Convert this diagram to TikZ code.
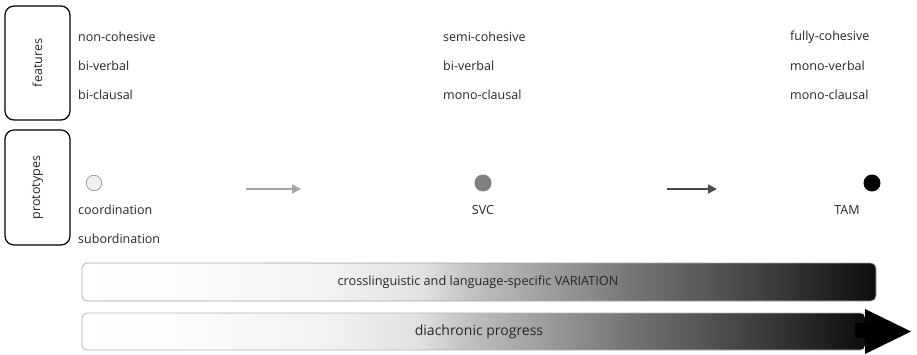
\documentclass[tikz,border=0pt]{standalone}
\usepackage{fontspec}
\setmainfont{Open Sans}
\usetikzlibrary{arrows.meta}
\pgfdeclarehorizontalshading{barshade}{100bp}{%
color(0bp)=(white);
color(25bp)=(white);
color(31bp)=(black!1);
color(40.5bp)=(black!5);
color(46.5bp)=(black!12);
color(49.5bp)=(black!24);
color(55bp)=(black!40);
color(60bp)=(black!55);
color(64bp)=(black!65);
color(69bp)=(black!78);
color(75bp)=(black!95);
color(100bp)=(black!95)}
\definecolor{txt}{gray}{0.15}
\tikzset{
  labelbox/.style={draw=black, line width=1.2pt, rounded corners=9pt},
  feat/.style={anchor=west, inner sep=0pt, text=txt, font=\fontsize{12.5}{14}\selectfont},
  vlabel/.style={rotate=90, text=txt, font=\fontsize{12.5}{14}\selectfont},
  proto/.style={circle, minimum size=17pt, inner sep=0pt},
  prog/.style={line width=1.6pt, -{Triangle[length=9pt,width=9pt]}},
  bartext/.style={text=txt, font=\fontsize{12.7}{14}\selectfont}
}
\begin{document}
\begin{tikzpicture}[x=1pt,y=-1pt]
\useasboundingbox (0,0) rectangle (917,355);
% left boxes
\draw[labelbox] (5,6) rectangle (70,120);
\node[vlabel] (feat) at (37.5,63) {features};
\draw[labelbox] (5,130) rectangle (70,245);
\node[vlabel] (prot) at (37.5,187.5) {prototypes};
% features
\node[feat] (f11) at (78,37) {non-cohesive};
\node[feat] (f12) at (78,66) {bi-verbal};
\node[feat] (f13) at (78,95) {bi-clausal};
\node[feat] (f21) at (443,37) {semi-cohesive};
\node[feat] (f22) at (443,66) {bi-verbal};
\node[feat] (f23) at (443,95) {mono-clausal};
\node[feat] (f31) at (790,37) {fully-cohesive};
\node[feat] (f32) at (790,66) {mono-verbal};
\node[feat] (f33) at (790,95) {mono-clausal};
% prototypes
\node[proto, draw=black!45, fill=black!6, line width=0.6pt, minimum size=15.5pt] (c1) at (94,183) {};
\node[proto, fill=black!50] (c2) at (483,183) {};
\node[proto, fill=black] (c3) at (872,183) {};
\node[feat] (p1) at (78,210) {coordination};
\node[feat] (p2) at (78,239) {subordination};
\node[feat, anchor=center] (p3) at (483,210) {SVC};
\node[feat, anchor=center] (p4) at (847,210) {TAM};
\coordinate (a1s) at (246,189); \coordinate (a1e) at (301,189);
\coordinate (a2s) at (667,189); \coordinate (a2e) at (717,189);
\draw[prog, draw=black!35, fill=black!35] (a1s) -- (a1e);
\draw[prog, draw=black!70, fill=black!70] (a2s) -- (a2e);
% variation bar
\path[shading=barshade, rounded corners=5pt] (82,263) rectangle (876,301);
\draw[black!35, line width=0.8pt, rounded corners=5pt] (82,263) rectangle (876,301);
\node[bartext] (var) at (478,282.5) {crosslinguistic and language-specific VARIATION};
% diachronic arrow
\path[shading=barshade, rounded corners=5pt] (82,313) -- (865,313) -- (865,350) -- (82,350) -- cycle;
\draw[black!30, line width=0.8pt, rounded corners=5pt] (865,313) -- (82,313) -- (82,350) -- (865,350);
\fill[black] (855,323) rectangle (866,338);
\fill[black] (865,309) -- (911,331.5) -- (865,354) -- cycle;
\node[bartext, font=\fontsize{14}{16}\selectfont] (dia) at (479,332) {diachronic progress};
\end{tikzpicture}
\end{document}
